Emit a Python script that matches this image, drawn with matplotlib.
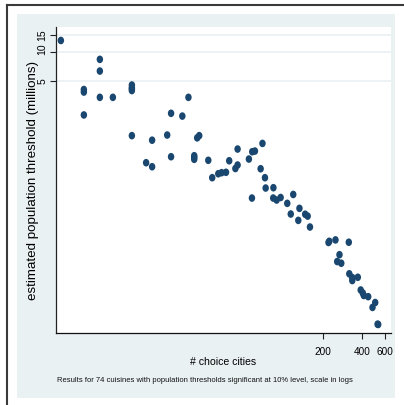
import matplotlib
matplotlib.use("Agg")
import matplotlib.pyplot as plt
from matplotlib.patches import Rectangle
from matplotlib.lines import Line2D
from matplotlib.path import Path
from matplotlib.transforms import Affine2D, ScaledTranslation

# number of cities where the cuisine is a choice option
choice_cities = [
    1.93, 3.85, 3.85, 2.90, 2.90, 3.85, 4.85, 6.79, 6.79, 6.79, 6.79,
    2.90, 13.6, 16.6, 18.5, 6.79, 9.72, 12.7, 13.6, 8.74, 9.72,
    21.6, 22.4, 20.5, 20.5, 20.5, 26.3, 28.2, 31.4, 33.3, 36.0, 38.1,
    44.2, 42.5, 44.2, 54.0, 57.3, 60.1, 68.7, 66.5, 71.8, 57.0,
    72.7, 83.4, 83.1, 88.3, 94.8, 118.5, 106.6, 113.4, 132.3, 129.6,
    146.4, 153.0, 159.4, 221.3, 224.4, 250.5, 317.1, 268.9, 258.2,
    277.6, 320.0, 336.8, 337.4, 372.1, 391.6, 406.5, 413.8, 447.3,
    482.8, 506.4, 534.0, 528.0,
]
# estimated population threshold, millions
threshold_millions = [
    13.3, 8.45, 6.38, 4.09, 3.85, 3.39, 3.39, 4.56, 4.29, 4.16, 3.99,
    2.22, 2.31, 2.16, 3.39, 1.35, 1.21, 1.37, 0.813, 0.704, 0.639,
    1.28, 1.35, 0.833, 0.80, 0.764, 0.746, 0.491, 0.540, 0.554, 0.559, 0.738,
    0.978, 0.612, 0.666, 0.769, 0.917, 0.932, 1.12, 0.609, 0.491, 0.301,
    0.383, 0.386, 0.301, 0.287, 0.305, 0.328, 0.265, 0.205, 0.235, 0.176,
    0.204, 0.195, 0.150, 0.1034, 0.1064, 0.110, 0.104, 0.0771, 0.0654,
    0.0628, 0.0487, 0.0446, 0.0414, 0.0448, 0.0330, 0.0307, 0.0289, 0.0281,
    0.0217, 0.0244, 0.0144, 0.0145,
]

x_ticks = [200, 400, 600]
x_ticklabels = ["200", "400", "600"]
y_ticks = [5, 10, 15]
y_ticklabels = ["5", "10", "15"]

W, H = 404, 405
fig = plt.figure(figsize=(W / 100, H / 100), dpi=100)
fig.patch.set_facecolor("white")

panel = "#eaf1f3"
navy = "#1a476f"
font = ["Liberation Sans", "DejaVu Sans"]

def fx(px):
    return px / W

def fy(py):
    return 1 - py / H

# outer frame lines
fig.add_artist(Line2D([fx(7), fx(7)], [fy(5), fy(405)], color="#3a3a3a", lw=1.5))
fig.add_artist(Line2D([fx(7), fx(404)], [fy(5), fy(5)], color="#3a3a3a", lw=1.5))
# graph region
fig.add_artist(Rectangle((fx(17), fy(398)), fx(395) - fx(17), fy(14) - fy(398),
                         facecolor=panel, edgecolor="none", zorder=0))

ax = fig.add_axes([fx(56), fy(333), fx(391) - fx(56), fy(27) - fy(333)])
ax.set_facecolor("white")
ax.set_xscale("log")
ax.set_yscale("log")
ax.set_xlim(1.77, 670)
ax.set_ylim(0.01173, 18.4)

for v in y_ticks:
    ax.axhline(v, color=panel, lw=1.2, zorder=1)

# slightly tall ellipse marker
mk = Path.unit_circle().transformed(Affine2D().scale(0.85, 1.0))
ax.scatter(choice_cities, threshold_millions, s=30, marker=mk, color=navy,
           edgecolors="none", zorder=3)

for s in ["top", "right"]:
    ax.spines[s].set_visible(False)
ax.spines["left"].set_color("#222222")
ax.spines["bottom"].set_color("#111111")
ax.spines["left"].set_linewidth(0.9)
ax.spines["bottom"].set_linewidth(0.9)

ax.xaxis.set_minor_locator(matplotlib.ticker.NullLocator())
ax.yaxis.set_minor_locator(matplotlib.ticker.NullLocator())
ax.set_xticks(x_ticks)
ax.set_xticklabels(x_ticklabels, family=font, fontsize=7.2)
ax.set_yticks(y_ticks)
ax.set_yticklabels(y_ticklabels, family=font, fontsize=7.5, rotation=90, va="center")
ax.tick_params(axis="x", length=4, width=0.8, color="#222222", pad=6)
ax.tick_params(axis="y", length=4, width=0.8, color="#222222", pad=2)
# nudge the "10" label up so it clears "15"
lab10 = ax.get_yticklabels()[1]
lab10.set_transform(lab10.get_transform() + ScaledTranslation(0, 3 / 100, fig.dpi_scale_trans))

fig.text(fx(223.5), fy(362), "# choice cities", family=font, fontsize=7.6,
         ha="center", va="center")
fig.text(fx(33), fy(180), "estimated population threshold (millions)", family=font,
         fontsize=9.6, rotation=90, ha="center", va="center")

fig.text(fx(57), fy(381), "Results for 74 cuisines with population thresholds significant "
         "at 10% level, scale in logs", family=font, fontsize=5.5, va="center",
         ha="left", color="#111111")

fig.savefig("out.png", dpi=100)
